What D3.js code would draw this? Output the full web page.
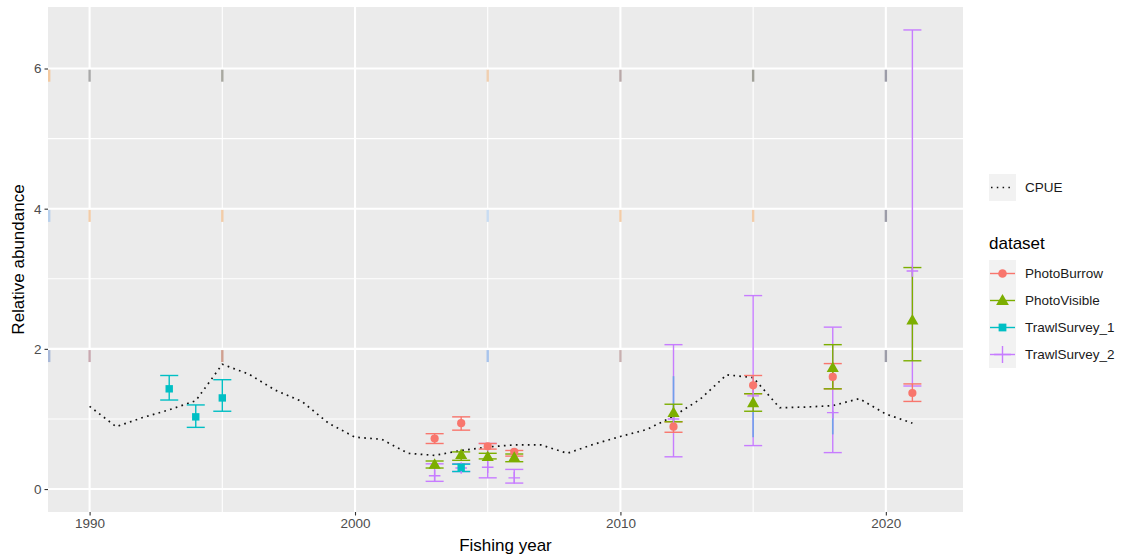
<!DOCTYPE html>
<html>
<head>
<meta charset="utf-8">
<script src="https://cdn.jsdelivr.net/npm/d3@7"></script>
<style>
  body { margin: 0; background: #ffffff; }
  svg { display: block; }
  text { font-family: "Liberation Sans", Arial, sans-serif; }
</style>
</head>
<body>
<svg id="chart" width="1124" height="559"></svg>
<script>
// ---- CPUE index (dotted line) ----
const cpueYears  = [1990, 1991, 1992, 1993, 1994, 1995, 1996, 1997, 1998, 1999, 2000,
                    2001, 2002, 2003, 2004, 2005, 2006, 2007, 2008, 2009, 2010, 2011,
                    2012, 2013, 2014, 2015, 2016, 2017, 2018, 2019, 2020, 2021];
const cpueValues = [1.18, 0.89, 1.02, 1.13, 1.26, 1.78, 1.64, 1.41, 1.25, 0.94, 0.74,
                    0.71, 0.51, 0.48, 0.55, 0.60, 0.63, 0.63, 0.51, 0.64, 0.75, 0.85,
                    1.04, 1.28, 1.63, 1.59, 1.16, 1.17, 1.19, 1.29, 1.07, 0.94];

// ---- survey datasets: estimate with lower / upper interval ----
const burrowYears  = [2003, 2004, 2005, 2006, 2012, 2015, 2018, 2021];
const burrowValues = [0.72, 0.94, 0.61, 0.53, 0.89, 1.48, 1.60, 1.37];
const burrowLower  = [0.65, 0.84, 0.57, 0.47, 0.81, 1.36, 1.43, 1.25];
const burrowUpper  = [0.79, 1.03, 0.65, 0.55, 0.96, 1.62, 1.79, 1.50];

const visibleYears  = [2003, 2004, 2005, 2006, 2012, 2015, 2018, 2021];
const visibleValues = [0.35, 0.49, 0.46, 0.45, 1.09, 1.23, 1.73, 2.41];
const visibleLower  = [0.30, 0.41, 0.43, 0.39, 0.96, 1.11, 1.43, 1.83];
const visibleUpper  = [0.40, 0.53, 0.51, 0.50, 1.21, 1.36, 2.06, 3.16];

const trawl1Years  = [1993, 1994, 1995, 2004];
const trawl1Values = [1.43, 1.03, 1.30, 0.31];
const trawl1Lower  = [1.27, 0.88, 1.11, 0.25];
const trawl1Upper  = [1.62, 1.20, 1.56, 0.355];

const trawl2Years  = [2003, 2004, 2005, 2006, 2012, 2015, 2018, 2021];
const trawl2Values = [0.19, 0.30, 0.31, 0.16, 1.00, 1.33, 1.09, 3.11];
const trawl2Lower  = [0.11, 0.25, 0.16, 0.085, 0.46, 0.62, 0.52, 1.47];
const trawl2Upper  = [0.36, 0.36, 0.65, 0.28, 2.06, 2.76, 2.31, 6.55];
// inner interval of the second trawl survey
const trawl2InnerYears = [2012, 2015, 2018];
const trawl2InnerLower = [0.97, 0.74, 0.78];
const trawl2InnerUpper = [1.61, 1.10, 1.11];

// ---- axis breaks and labels ----
const xMajorTicks = [1990, 2000, 2010, 2020];
const xMinorTicks = [1995, 2005, 2015];
const yMajorTicks = [0, 2, 4, 6];
const yMinorTicks = [1, 3, 5];
const xTitle = "Fishing year";
const yTitle = "Relative abundance";
const legendTitle = "dataset";
const datasetNames = ["PhotoBurrow", "PhotoVisible", "TrawlSurvey_1", "TrawlSurvey_2"];
const datasetColors = ["#F8766D", "#7CAE00", "#00BFC4", "#C77CFF"];

// small tinted stubs hanging under the major grid lines
const stubLevels = [6, 4, 2];
const stubYears  = [1988.43, 1990, 1995, 2005, 2010, 2015, 2020];
const stubColors = [
  ["#F2C9A0", "#A8A8A8", "#A8A8A0", "#F0CFB0", "#B8A8A8", "#A0A098", "#9C9CA8"],
  ["#B8D0EC", "#F2CCA8", "#F2CCA8", "#C8DCF2", "#F2CCA8", "#F2CCA8", "#9C9CA8"],
  ["#A8B8D8", "#C8A8B0", "#D0A090", "#A8C4EC", "#C8B0B0", null,      "#9C9CA8"]
];

// ---------------------------------------------------------------
const svg = d3.select("#chart");
const panel = { left: 48, right: 963, top: 7, bottom: 512 };
const capHalf = 0.34;   // half width of error-bar caps, in years

const series = [
  { name: datasetNames[0], color: datasetColors[0], shape: "circle",
    years: burrowYears, values: burrowValues, lower: burrowLower, upper: burrowUpper },
  { name: datasetNames[1], color: datasetColors[1], shape: "triangle",
    years: visibleYears, values: visibleValues, lower: visibleLower, upper: visibleUpper },
  { name: datasetNames[2], color: datasetColors[2], shape: "square",
    years: trawl1Years, values: trawl1Values, lower: trawl1Lower, upper: trawl1Upper },
  { name: datasetNames[3], color: datasetColors[3], shape: "plus",
    years: trawl2Years, values: trawl2Values, lower: trawl2Lower, upper: trawl2Upper }
];

// scales with ggplot-style 5% expansion
const allYears = cpueYears.concat(...series.map(s => s.years));
const xLo = d3.min(allYears), xHi = d3.max(allYears) + capHalf;
const xPad = (xHi - xLo) * 0.05;
const x = d3.scaleLinear().domain([xLo - xPad, xHi + xPad]).range([panel.left, panel.right]);

const yHiData = d3.max(series.flatMap(s => s.upper));
const yPad = (yHiData - 0) * 0.05;
const y = d3.scaleLinear().domain([0 - yPad, yHiData + yPad]).range([panel.bottom, panel.top]);

// panel background
svg.append("rect")
  .attr("x", panel.left).attr("y", panel.top)
  .attr("width", panel.right - panel.left).attr("height", panel.bottom - panel.top)
  .attr("fill", "#EBEBEB");

// grid
const grid = svg.append("g");
grid.selectAll(".xmin").data(xMinorTicks).join("line")
  .attr("x1", d => x(d)).attr("x2", d => x(d))
  .attr("y1", panel.top).attr("y2", panel.bottom)
  .attr("stroke", "#fff").attr("stroke-width", 1.1);
grid.selectAll(".ymin").data(yMinorTicks).join("line")
  .attr("y1", d => y(d)).attr("y2", d => y(d))
  .attr("x1", panel.left).attr("x2", panel.right)
  .attr("stroke", "#fff").attr("stroke-width", 1.1);
grid.selectAll(".xmaj").data(xMajorTicks).join("line")
  .attr("x1", d => x(d)).attr("x2", d => x(d))
  .attr("y1", panel.top).attr("y2", panel.bottom)
  .attr("stroke", "#fff").attr("stroke-width", 2.1);
grid.selectAll(".ymaj").data(yMajorTicks).join("line")
  .attr("y1", d => y(d)).attr("y2", d => y(d))
  .attr("x1", panel.left).attr("x2", panel.right)
  .attr("stroke", "#fff").attr("stroke-width", 2.1);

// tinted stubs
const stubs = [];
stubLevels.forEach((lv, i) => stubYears.forEach((yr, j) => {
  if (stubColors[i][j]) stubs.push({ level: lv, year: yr, color: stubColors[i][j] });
}));
svg.append("g").selectAll("rect").data(stubs).join("rect")
  .attr("x", d => Math.max(panel.left, x(d.year) - 1.2))
  .attr("y", d => y(d.level) + 1.2)
  .attr("width", 2.4).attr("height", 12)
  .attr("fill", d => d.color);

// axes
const xAxis = d3.axisBottom(x).tickValues(xMajorTicks).tickFormat(d3.format("d")).tickSize(3.5).tickPadding(3);
const yAxis = d3.axisLeft(y).tickValues(yMajorTicks).tickFormat(d3.format("d")).tickSize(3.5).tickPadding(3);
const gx = svg.append("g").attr("transform", `translate(0,${panel.bottom})`).call(xAxis);
const gy = svg.append("g").attr("transform", `translate(${panel.left},0)`).call(yAxis);
[gx, gy].forEach(g => {
  g.select(".domain").remove();
  g.selectAll(".tick line").attr("stroke", "#333").attr("stroke-width", 1.1);
  g.selectAll(".tick text").attr("fill", "#4D4D4D").style("font-size", "13.5px")
    .style("font-family", "'Liberation Sans', Arial, sans-serif");
});

// axis titles
svg.append("text").attr("x", (panel.left + panel.right) / 2).attr("y", 551)
  .attr("text-anchor", "middle").style("font-size", "17px").attr("fill", "#000").text(xTitle);
svg.append("text")
  .attr("transform", `translate(24,${(panel.top + panel.bottom) / 2}) rotate(-90)`)
  .attr("text-anchor", "middle").style("font-size", "17px").attr("fill", "#000").text(yTitle);

// CPUE dotted line
svg.append("path")
  .datum(cpueYears.map((yr, i) => [yr, cpueValues[i]]))
  .attr("d", d3.line().x(d => x(d[0])).y(d => y(d[1])))
  .attr("fill", "none").attr("stroke", "#111").attr("stroke-width", 1.7)
  .attr("stroke-dasharray", "1.7,4.3");

// error bars
function drawBars(g, s) {
  const rows = s.years.map((yr, i) => ({ yr, lo: s.lower[i], hi: s.upper[i] }));
  const bg = g.append("g").attr("stroke", s.color).attr("stroke-width", 1.4).attr("fill", "none");
  bg.selectAll(".v").data(rows).join("line")
    .attr("x1", d => x(d.yr)).attr("x2", d => x(d.yr))
    .attr("y1", d => y(d.lo)).attr("y2", d => y(d.hi));
  bg.selectAll(".lo").data(rows).join("line")
    .attr("x1", d => x(d.yr - capHalf)).attr("x2", d => x(d.yr + capHalf))
    .attr("y1", d => y(d.lo)).attr("y2", d => y(d.lo));
  bg.selectAll(".hi").data(rows).join("line")
    .attr("x1", d => x(d.yr - capHalf)).attr("x2", d => x(d.yr + capHalf))
    .attr("y1", d => y(d.hi)).attr("y2", d => y(d.hi));
}
const bars = svg.append("g");
drawBars(bars, series[3]);
bars.append("g").selectAll("line")
  .data(trawl2InnerYears.map((yr, i) => ({ yr, lo: trawl2InnerLower[i], hi: trawl2InnerUpper[i] })))
  .join("line")
  .attr("x1", d => x(d.yr)).attr("x2", d => x(d.yr))
  .attr("y1", d => y(d.lo)).attr("y2", d => y(d.hi))
  .attr("stroke", "#6FA0EA").attr("stroke-width", 1.6);
drawBars(bars, series[2]);
drawBars(bars, series[0]);
drawBars(bars, series[1]);

// point markers
function marker(g, shape, color, cx, cy, scale = 1) {
  if (shape === "circle") {
    g.append("circle").attr("cx", cx).attr("cy", cy).attr("r", 4.1 * scale).attr("fill", color);
  } else if (shape === "triangle") {
    g.append("path").attr("transform", `translate(${cx},${cy + 0.8})`)
      .attr("d", d3.symbol(d3.symbolTriangle, 64 * scale * scale)()).attr("fill", color);
  } else if (shape === "square") {
    const h = 3.7 * scale;
    g.append("rect").attr("x", cx - h).attr("y", cy - h).attr("width", 2 * h).attr("height", 2 * h).attr("fill", color);
  } else {
    const h = 5.8 * scale;
    g.append("path").attr("d", `M${cx - h},${cy}H${cx + h}M${cx},${cy - h}V${cy + h}`)
      .attr("stroke", color).attr("stroke-width", 1.4).attr("fill", "none");
  }
}
const pts = svg.append("g");
[series[3], series[2], series[0], series[1]].forEach(s => {
  s.years.forEach((yr, i) => marker(pts, s.shape, s.color, x(yr), y(s.values[i])));
});

// ---- legends ----
const lg = svg.append("g");
const keyX = 989, keySize = 27;
// CPUE key
lg.append("rect").attr("x", keyX).attr("y", 174).attr("width", keySize).attr("height", keySize)
  .attr("fill", "#F2F2F2");
lg.append("line").attr("x1", keyX + 2).attr("x2", keyX + keySize - 2)
  .attr("y1", 174 + keySize / 2).attr("y2", 174 + keySize / 2)
  .attr("stroke", "#111").attr("stroke-width", 1.5).attr("stroke-dasharray", "1.5,4.3");
lg.append("text").attr("x", 1025).attr("y", 174 + keySize / 2).attr("dy", "0.35em")
  .style("font-size", "13.5px").attr("fill", "#1a1a1a").text("CPUE");

// dataset legend
lg.append("text").attr("x", keyX).attr("y", 249).style("font-size", "17px").attr("fill", "#000").text(legendTitle);
const keyTop = 260;
series.forEach((s, i) => {
  const ky = keyTop + i * keySize;
  lg.append("rect").attr("x", keyX).attr("y", ky).attr("width", keySize).attr("height", keySize)
    .attr("fill", "#F2F2F2");
  lg.append("line").attr("x1", keyX + 1).attr("x2", keyX + keySize - 1)
    .attr("y1", ky + keySize / 2).attr("y2", ky + keySize / 2)
    .attr("stroke", s.color).attr("stroke-width", 1.4);
  marker(lg, s.shape, s.color, keyX + keySize / 2, ky + keySize / 2, s.shape === "plus" ? 1.45 : 1.05);
  lg.append("text").attr("x", 1025).attr("y", ky + keySize / 2).attr("dy", "0.35em")
    .style("font-size", "13.5px").attr("fill", "#1a1a1a").text(s.name);
});
</script>
</body>
</html>
